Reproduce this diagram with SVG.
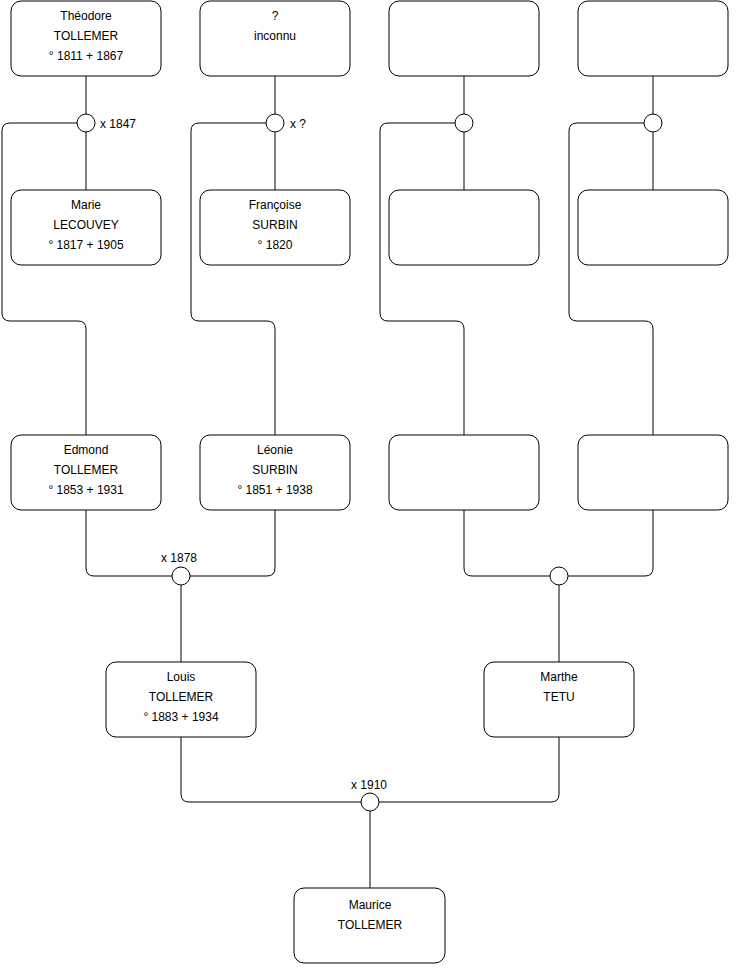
<svg xmlns="http://www.w3.org/2000/svg" width="740" height="975" viewBox="0 0 740 975">
<style>
.box{fill:#fff;stroke:#000;stroke-width:1}
.c{fill:#fff;stroke:#000;stroke-width:1}
.ln{fill:none;stroke:#000;stroke-width:1}
text{font-family:"Liberation Sans",Arial,sans-serif;font-size:12px;fill:#000}
.m{text-anchor:middle}
</style>
<rect width="740" height="975" fill="#fff"/>
<g id="connectors">
<path class="ln" d="M86,76V114M86,132V190M275,76V114M275,132V190M464,76V114M464,132V190M653,76V114M653,132V190"/>
<path class="ln" d="M77,123H10Q2,123 2,131V313Q2,321 10,321H78Q86,321 86,329V435"/>
<path class="ln" d="M266,123H199Q191,123 191,131V313Q191,321 199,321H267Q275,321 275,329V435"/>
<path class="ln" d="M455,123H388Q380,123 380,131V313Q380,321 388,321H456Q464,321 464,329V435"/>
<path class="ln" d="M644,123H577Q569,123 569,131V313Q569,321 577,321H645Q653,321 653,329V435"/>
<path class="ln" d="M86,510V568Q86,576 94,576H172M275,510V568Q275,576 267,576H190M181,585V662"/>
<path class="ln" d="M464,510V568Q464,576 472,576H550M653,510V568Q653,576 645,576H568M559,585V662"/>
<path class="ln" d="M181,737V794Q181,802 189,802H361M559,737V794Q559,802 551,802H379M370,811V888"/>
</g>
<g id="u1"><circle class="c" cx="86" cy="123" r="9"/><text x="100" y="128">x 1847</text></g>
<g id="u2"><circle class="c" cx="275" cy="123" r="9"/><text x="290" y="128">x ?</text></g>
<g id="u3"><circle class="c" cx="464" cy="123" r="9"/></g>
<g id="u4"><circle class="c" cx="653" cy="123" r="9"/></g>
<g id="u5"><circle class="c" cx="181" cy="576" r="9"/><text class="m" x="179" y="562">x 1878</text></g>
<g id="u6"><circle class="c" cx="559" cy="576" r="9"/></g>
<g id="u7"><circle class="c" cx="370" cy="802" r="9"/><text class="m" x="369" y="789">x 1910</text></g>
<g id="theodore"><rect class="box" x="11" y="1" width="150" height="75" rx="10"/><text class="m" x="86" y="20">Théodore</text><text class="m" x="86" y="40">TOLLEMER</text><text class="m" x="86" y="60">° 1811 + 1867</text></g>
<g id="inconnu"><rect class="box" x="200" y="1" width="150" height="75" rx="10"/><text class="m" x="275" y="20">?</text><text class="m" x="275" y="40">inconnu</text></g>
<g id="gp3"><rect class="box" x="389" y="1" width="150" height="75" rx="10"/></g>
<g id="gp5"><rect class="box" x="578" y="1" width="150" height="75" rx="10"/></g>
<g id="marie"><rect class="box" x="11" y="190" width="150" height="75" rx="10"/><text class="m" x="86" y="209">Marie</text><text class="m" x="86" y="229">LECOUVEY</text><text class="m" x="86" y="249">° 1817 + 1905</text></g>
<g id="francoise"><rect class="box" x="200" y="190" width="150" height="75" rx="10"/><text class="m" x="275" y="209">Françoise</text><text class="m" x="275" y="229">SURBIN</text><text class="m" x="275" y="249">° 1820</text></g>
<g id="gp4"><rect class="box" x="389" y="190" width="150" height="75" rx="10"/></g>
<g id="gp6"><rect class="box" x="578" y="190" width="150" height="75" rx="10"/></g>
<g id="edmond"><rect class="box" x="11" y="435" width="150" height="75" rx="10"/><text class="m" x="86" y="454">Edmond</text><text class="m" x="86" y="474">TOLLEMER</text><text class="m" x="86" y="494">° 1853 + 1931</text></g>
<g id="leonie"><rect class="box" x="200" y="435" width="150" height="75" rx="10"/><text class="m" x="275" y="454">Léonie</text><text class="m" x="275" y="474">SURBIN</text><text class="m" x="275" y="494">° 1851 + 1938</text></g>
<g id="p3"><rect class="box" x="389" y="435" width="150" height="75" rx="10"/></g>
<g id="p4"><rect class="box" x="578" y="435" width="150" height="75" rx="10"/></g>
<g id="louis"><rect class="box" x="106" y="662" width="150" height="75" rx="10"/><text class="m" x="181" y="681">Louis</text><text class="m" x="181" y="701">TOLLEMER</text><text class="m" x="181" y="721">° 1883 + 1934</text></g>
<g id="marthe"><rect class="box" x="484" y="662" width="150" height="75" rx="10"/><text class="m" x="559" y="681">Marthe</text><text class="m" x="559" y="701">TETU</text></g>
<g id="maurice"><rect class="box" x="294" y="888" width="151" height="75" rx="10"/><text class="m" x="370" y="909">Maurice</text><text class="m" x="370" y="929">TOLLEMER</text></g>
</svg>
